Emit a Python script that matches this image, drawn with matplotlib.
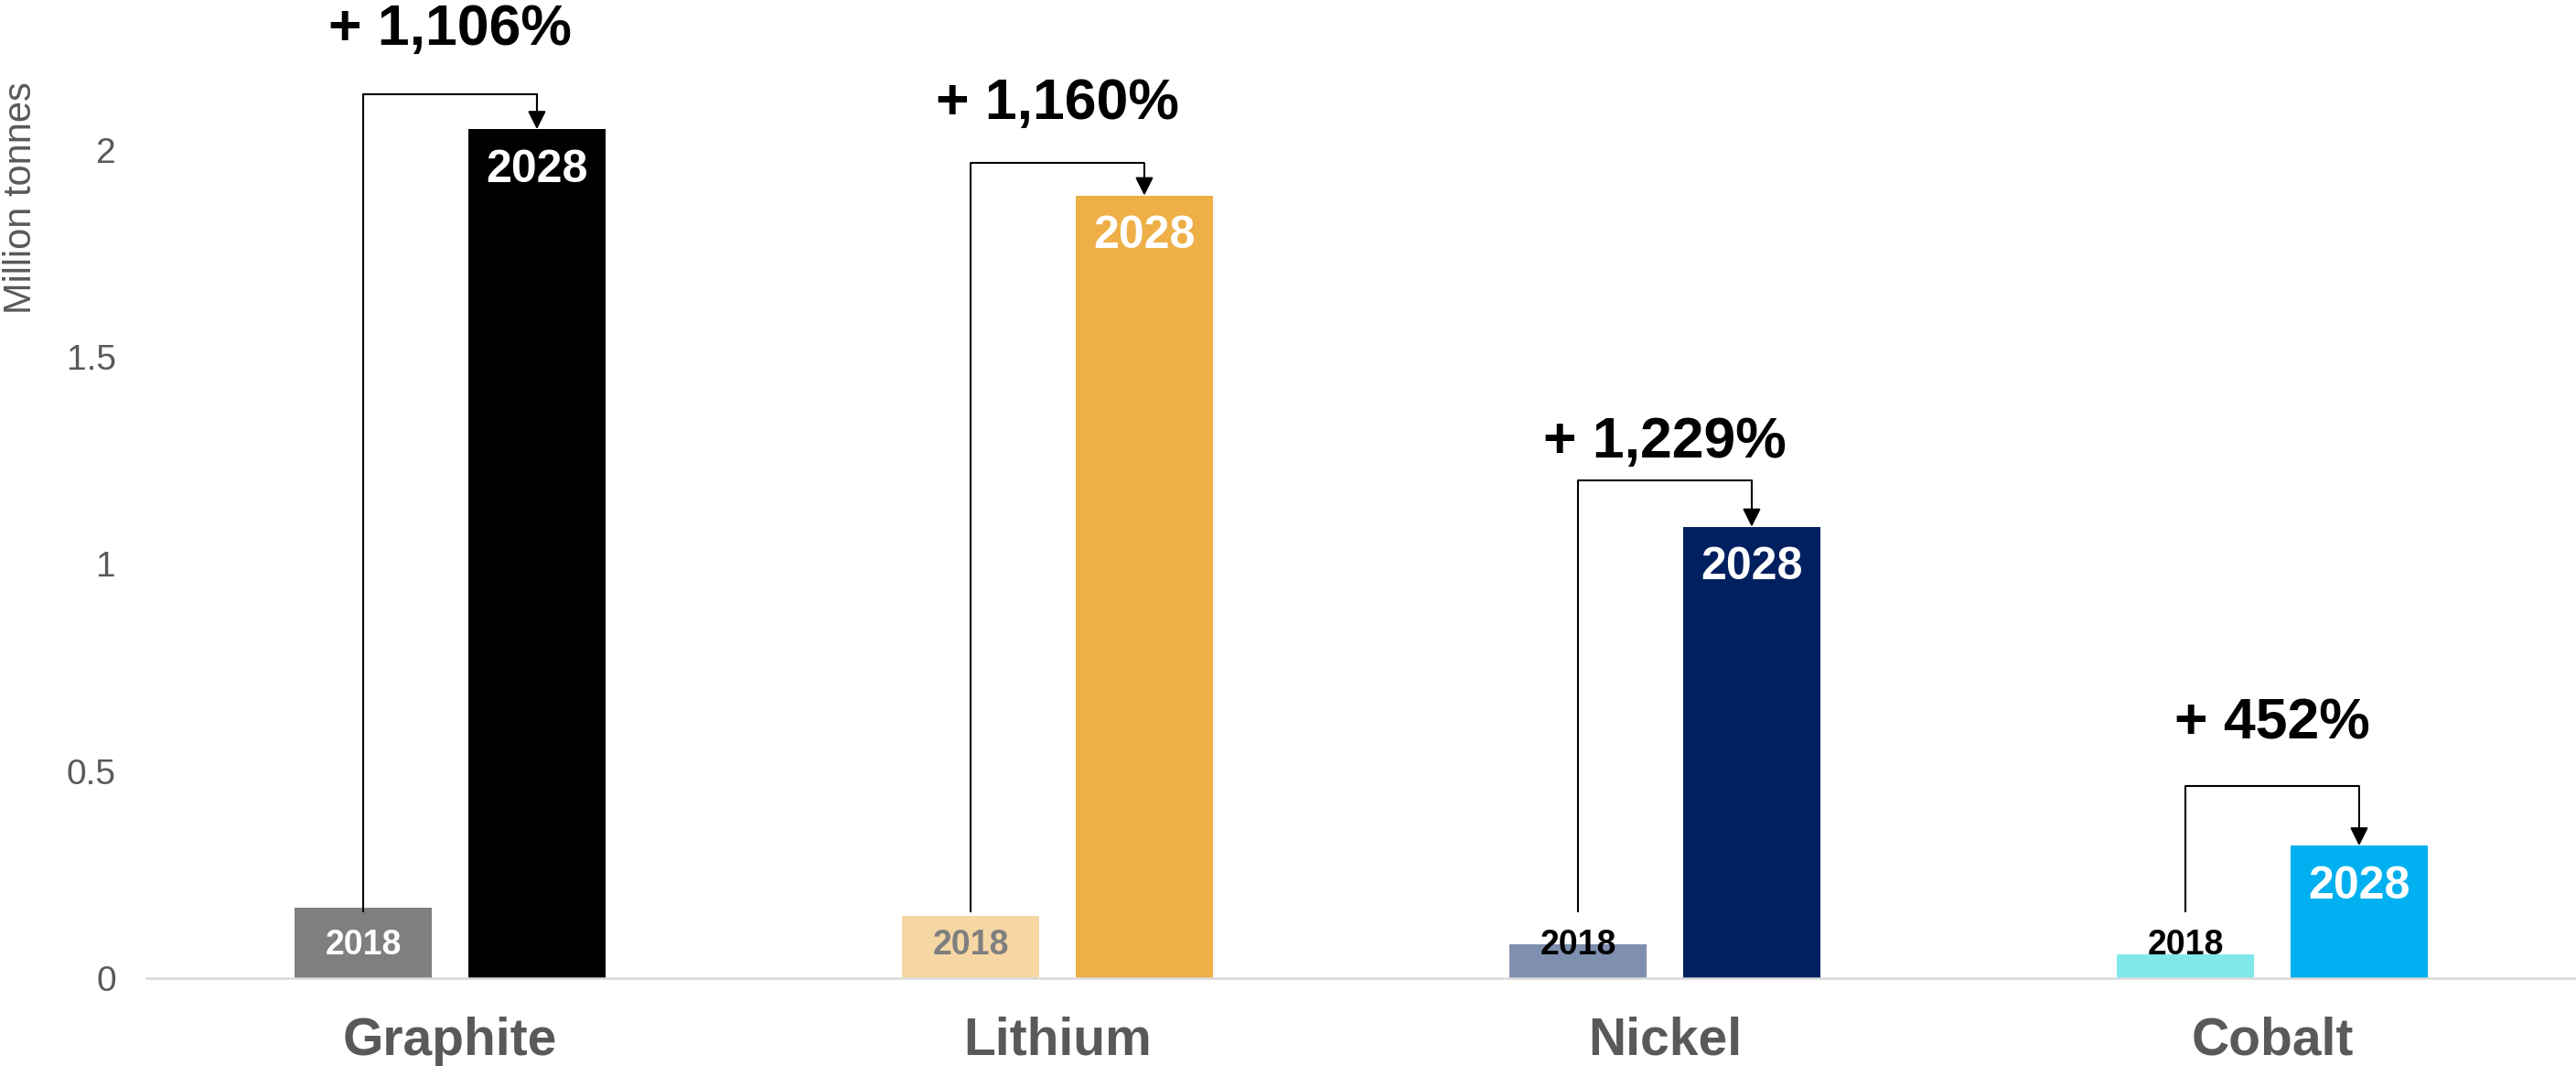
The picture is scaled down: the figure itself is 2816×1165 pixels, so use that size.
import matplotlib.pyplot as plt

plt.rcParams['font.family'] = ['Liberation Sans', 'DejaVu Sans']

minerais = ["Graphite", "Lithium", "Nickel", "Cobalt"]
valores_2018 = [0.17, 0.15, 0.082, 0.058]
valores_2028 = [2.05, 1.89, 1.09, 0.32]
crescimento = ["+ 1,106%", "+ 1,160%", "+ 1,229%", "+ 452%"]
rotulo_antigo = "2018"
rotulo_novo = "2028"

cores_2018 = ["#7F7F7F", "#F6D7A4", "#7F8FAF", "#80E8EA"]
cores_2028 = ["#000000", "#EEAF47", "#00205F", "#00B0F0"]
cores_texto_2018 = ["white", "#7F7F7F", "black", "black"]

# espaco entre a barra de 2028 e a chave, e entre a chave e o rotulo (em milhoes de t)
folga_chave = [0.085, 0.078, 0.112, 0.144]
folga_rotulo = [0.155, 0.143, 0.092, 0.151]

fig = plt.figure(figsize=(28.16, 11.65), dpi=100)
ax = fig.add_axes([160 / 2816, 96 / 1165, 1 - 160 / 2816, 1 - 96 / 1165])

largura = 0.226
desloc = 0.143
x = list(range(len(minerais)))
x18 = [i - desloc for i in x]
x28 = [i + desloc for i in x]

ax.bar(x18, valores_2018, width=largura, color=cores_2018, zorder=2)
ax.bar(x28, valores_2028, width=largura, color=cores_2028, zorder=2)

for i in x:
    ax.text(x18[i], 0.08, rotulo_antigo, ha="center", va="center", fontsize=27,
            fontweight="bold", color=cores_texto_2018[i], zorder=3)
    ax.text(x28[i], valores_2028[i] - 0.099, rotulo_novo, ha="center", va="center",
            fontsize=36, fontweight="bold", color="white", zorder=3)

    topo = valores_2028[i] + folga_chave[i]
    ax.plot([x18[i], x18[i], x28[i]], [0.16, topo, topo], color="black", lw=1.5,
            solid_capstyle="butt", zorder=3)
    ax.annotate("", xy=(x28[i], valores_2028[i]), xytext=(x28[i], topo),
                arrowprops=dict(arrowstyle="-|>", color="black", lw=1.5,
                                mutation_scale=30, shrinkA=0, shrinkB=0), zorder=3)
    ax.text(i, topo + folga_rotulo[i], crescimento[i], ha="center", va="center",
            fontsize=45, fontweight="bold", color="black", clip_on=False)

ax.set_xlim(-0.5, 3.5)
ax.set_ylim(0, 2.362)
ax.set_yticks([0, 0.5, 1, 1.5, 2])
ax.set_yticklabels(["0", "0.5", "1", "1.5", "2"])
ax.set_xticks(x)
ax.set_xticklabels(minerais, fontsize=41, fontweight="bold", color="#595959")
ax.tick_params(axis="y", length=0, pad=24, labelsize=28, labelcolor="#595959")
ax.tick_params(axis="x", length=0, pad=30)

for lado in ["top", "right", "left"]:
    ax.spines[lado].set_visible(False)
ax.spines["bottom"].set_color("#D9D9D9")
ax.spines["bottom"].set_linewidth(1.8)
ax.spines["bottom"].set_zorder(4)

fig.text(23 / 2816, 1 - 216 / 1165, "Million tonnes", rotation=90, ha="center",
         va="center", fontsize=30, color="#595959")

fig.savefig("out.png", dpi=100)
